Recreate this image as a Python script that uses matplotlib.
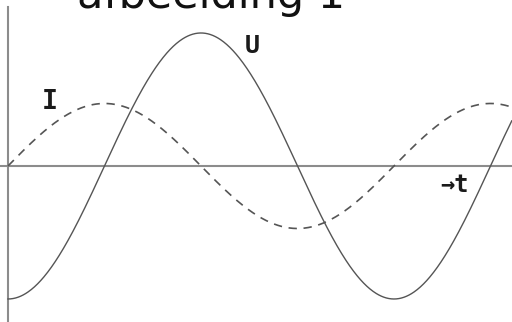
import numpy as np
import matplotlib
matplotlib.use("Agg")
import matplotlib.pyplot as plt

# Values
U_amplitude = 1.0        # solid curve U
I_amplitude = 0.47       # dashed curve I
U_phase = -np.pi / 2     # U lags I by a quarter period (U = -cos)
I_phase = 0.0
t_end = 8.2              # radians shown on the t-axis
title = "afbeelding 1"
labels = ["U", "I", "→t"]

t = np.linspace(0, t_end, 800)
U = U_amplitude * np.sin(t + U_phase)
I = I_amplitude * np.sin(t + I_phase)

fig = plt.figure(figsize=(5.12, 3.22), dpi=100)
ax = fig.add_axes([0, 0, 1, 1])
ax.set_xlim(-0.130, 8.204)
ax.set_ylim(-1.173, 1.248)
ax.axis("off")

axis_col = "#8c8c8c"
curve_col = "#555555"
ax.axhline(0, color=axis_col, lw=1.5)
ax.axvline(0, ymin=0, ymax=0.978, color=axis_col, lw=1.5)

ax.plot(t, U, color=curve_col, lw=1.0)
ax.plot(t, I, color=curve_col, lw=1.2, dashes=(5, 4))

txt_kw = dict(fontweight="bold", color="#1a1a1a", ha="center", va="center",
              family="DejaVu Sans Mono")
ax.text(3.97, 0.90, labels[0], fontsize=18, **txt_kw)
ax.text(0.684, 0.48, labels[1], fontsize=19, **txt_kw)
ax.text(7.276, -0.14, labels[2], fontsize=17, **txt_kw)

fig.text(77 / 512, 1 - 8 / 322, title, fontsize=31, ha="left",
         va="baseline", color="#111111", family="DejaVu Sans")

fig.savefig("out.png", dpi=100)
